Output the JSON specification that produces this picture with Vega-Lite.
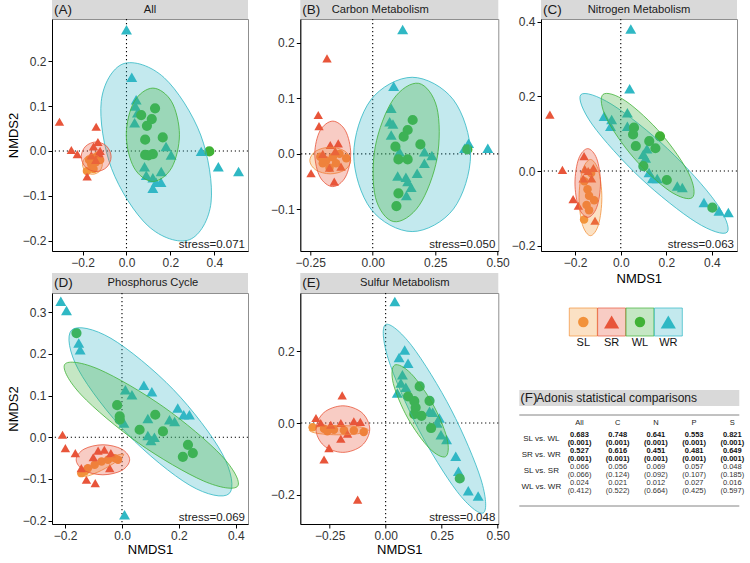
{
"$schema":"https://vega.github.io/schema/vega-lite/v6.json",
"padding":{"left":6,"top":0,"right":5,"bottom":3},
"background":"white",
"config":{"font":"Liberation Sans","view":{"stroke":"#8f8f8f","strokeWidth":1},
"axis":{"grid":false,"domainColor":"#000000","domainWidth":1,"tickColor":"#000000","tickSize":4,"tickWidth":1,"labelColor":"#333333","labelFontSize":12,"labelPadding":2,"labelFlush":false,"labelOverlap":false,"titleFontSize":13,"titleFontWeight":"normal","titleColor":"#000000","titlePadding":2}},
"datasets":{
"pts":[
{"p":"A","g":"SL","x":-0.17,"y":-0.02},{"p":"A","g":"SL","x":-0.16,"y":-0.03},{"p":"A","g":"SL","x":-0.15,"y":-0.04},{"p":"A","g":"SL","x":-0.18,"y":-0.045},{"p":"A","g":"SL","x":-0.14,"y":-0.025},{"p":"A","g":"SL","x":-0.13,"y":-0.01},{"p":"A","g":"SL","x":-0.15,"y":-0.015},{"p":"A","g":"SL","x":-0.12,"y":-0.02},
{"p":"A","g":"SR","x":-0.305,"y":0.065},{"p":"A","g":"SR","x":-0.138,"y":0.054},{"p":"A","g":"SR","x":-0.251,"y":0.002},{"p":"A","g":"SR","x":-0.224,"y":-0.007},{"p":"A","g":"SR","x":-0.179,"y":-0.057},{"p":"A","g":"SR","x":-0.15,"y":0.01},{"p":"A","g":"SR","x":-0.13,"y":0.02},{"p":"A","g":"SR","x":-0.12,"y":0.0},{"p":"A","g":"SR","x":-0.16,"y":-0.01},{"p":"A","g":"SR","x":-0.14,"y":-0.02},{"p":"A","g":"SR","x":-0.125,"y":-0.005},
{"p":"A","g":"WR","x":0.0,"y":0.27},{"p":"A","g":"WR","x":0.024,"y":0.164},{"p":"A","g":"WR","x":0.044,"y":0.114},{"p":"A","g":"WR","x":0.04,"y":0.1},{"p":"A","g":"WR","x":0.05,"y":0.085},{"p":"A","g":"WR","x":0.037,"y":0.063},{"p":"A","g":"WR","x":0.18,"y":0.01},{"p":"A","g":"WR","x":0.203,"y":-0.009},{"p":"A","g":"WR","x":0.082,"y":-0.035},{"p":"A","g":"WR","x":0.09,"y":-0.054},{"p":"A","g":"WR","x":0.158,"y":-0.046},{"p":"A","g":"WR","x":0.12,"y":-0.06},{"p":"A","g":"WR","x":0.135,"y":-0.07},{"p":"A","g":"WR","x":0.12,"y":-0.083},{"p":"A","g":"WR","x":0.157,"y":-0.07},{"p":"A","g":"WR","x":0.34,"y":-0.001},{"p":"A","g":"WR","x":0.418,"y":-0.035},{"p":"A","g":"WR","x":0.51,"y":-0.046},
{"p":"A","g":"WL","x":0.067,"y":0.08},{"p":"A","g":"WL","x":0.13,"y":0.095},{"p":"A","g":"WL","x":0.093,"y":0.056},{"p":"A","g":"WL","x":0.115,"y":0.071},{"p":"A","g":"WL","x":0.085,"y":0.025},{"p":"A","g":"WL","x":0.165,"y":0.03},{"p":"A","g":"WL","x":0.085,"y":-0.009},{"p":"A","g":"WL","x":0.12,"y":-0.007},{"p":"A","g":"WL","x":0.1,"y":-0.01},{"p":"A","g":"WL","x":0.377,"y":-0.001},
{"p":"B","g":"SL","x":-0.21,"y":-0.005},{"p":"B","g":"SL","x":-0.186,"y":-0.012},{"p":"B","g":"SL","x":-0.16,"y":-0.006},{"p":"B","g":"SL","x":-0.133,"y":0.0},{"p":"B","g":"SL","x":-0.173,"y":-0.025},{"p":"B","g":"SL","x":-0.2,"y":-0.017},{"p":"B","g":"SL","x":-0.106,"y":-0.008},{"p":"B","g":"SL","x":-0.147,"y":-0.017},
{"p":"B","g":"SR","x":-0.183,"y":0.172},{"p":"B","g":"SR","x":-0.218,"y":0.07},{"p":"B","g":"SR","x":-0.215,"y":0.05},{"p":"B","g":"SR","x":-0.247,"y":-0.035},{"p":"B","g":"SR","x":-0.154,"y":-0.05},{"p":"B","g":"SR","x":-0.17,"y":0.016},{"p":"B","g":"SR","x":-0.138,"y":0.019},{"p":"B","g":"SR","x":-0.127,"y":-0.023},{"p":"B","g":"SR","x":-0.2,"y":0.0},{"p":"B","g":"SR","x":-0.173,"y":-0.025},{"p":"B","g":"SR","x":-0.15,"y":0.005},
{"p":"B","g":"WR","x":0.12,"y":0.224},{"p":"B","g":"WR","x":0.084,"y":0.122},{"p":"B","g":"WR","x":0.074,"y":0.082},{"p":"B","g":"WR","x":0.068,"y":0.058},{"p":"B","g":"WR","x":0.081,"y":0.054},{"p":"B","g":"WR","x":0.074,"y":0.034},{"p":"B","g":"WR","x":0.107,"y":0.004},{"p":"B","g":"WR","x":0.207,"y":0.004},{"p":"B","g":"WR","x":0.237,"y":-0.003},{"p":"B","g":"WR","x":0.207,"y":-0.017},{"p":"B","g":"WR","x":0.178,"y":-0.035},{"p":"B","g":"WR","x":0.1,"y":-0.04},{"p":"B","g":"WR","x":0.133,"y":-0.042},{"p":"B","g":"WR","x":0.14,"y":-0.05},{"p":"B","g":"WR","x":0.154,"y":-0.06},{"p":"B","g":"WR","x":0.135,"y":-0.075},{"p":"B","g":"WR","x":0.368,"y":0.01},{"p":"B","g":"WR","x":0.384,"y":0.019},{"p":"B","g":"WR","x":0.461,"y":0.01},
{"p":"B","g":"WL","x":0.16,"y":0.061},{"p":"B","g":"WL","x":0.14,"y":0.043},{"p":"B","g":"WL","x":0.124,"y":0.031},{"p":"B","g":"WL","x":0.191,"y":0.017},{"p":"B","g":"WL","x":0.091,"y":0.013},{"p":"B","g":"WL","x":0.103,"y":-0.01},{"p":"B","g":"WL","x":0.14,"y":-0.01},{"p":"B","g":"WL","x":0.103,"y":-0.071},{"p":"B","g":"WL","x":0.095,"y":-0.094},{"p":"B","g":"WL","x":0.379,"y":0.008},
{"p":"C","g":"SL","x":-0.146,"y":-0.049},{"p":"C","g":"SL","x":-0.139,"y":-0.066},{"p":"C","g":"SL","x":-0.117,"y":-0.078},{"p":"C","g":"SL","x":-0.15,"y":-0.091},{"p":"C","g":"SL","x":-0.139,"y":-0.105},{"p":"C","g":"SL","x":-0.161,"y":-0.13},{"p":"C","g":"SL","x":-0.13,"y":-0.005},{"p":"C","g":"SL","x":-0.16,"y":-0.027},
{"p":"C","g":"SR","x":-0.311,"y":0.151},{"p":"C","g":"SR","x":-0.256,"y":0.003},{"p":"C","g":"SR","x":-0.161,"y":0.04},{"p":"C","g":"SR","x":-0.209,"y":-0.075},{"p":"C","g":"SR","x":-0.186,"y":-0.093},{"p":"C","g":"SR","x":-0.113,"y":-0.133},{"p":"C","g":"SR","x":-0.158,"y":0.005},{"p":"C","g":"SR","x":-0.143,"y":0.0},{"p":"C","g":"SR","x":-0.128,"y":-0.02},{"p":"C","g":"SR","x":-0.165,"y":-0.02},{"p":"C","g":"SR","x":-0.12,"y":0.008},
{"p":"C","g":"WR","x":0.044,"y":0.38},{"p":"C","g":"WR","x":0.039,"y":0.22},{"p":"C","g":"WR","x":-0.073,"y":0.147},{"p":"C","g":"WR","x":-0.04,"y":0.138},{"p":"C","g":"WR","x":0.029,"y":0.156},{"p":"C","g":"WR","x":0.029,"y":0.12},{"p":"C","g":"WR","x":-0.045,"y":0.12},{"p":"C","g":"WR","x":0.099,"y":0.045},{"p":"C","g":"WR","x":0.109,"y":0.035},{"p":"C","g":"WR","x":0.124,"y":-0.004},{"p":"C","g":"WR","x":0.139,"y":-0.02},{"p":"C","g":"WR","x":0.248,"y":-0.04},{"p":"C","g":"WR","x":0.27,"y":-0.044},{"p":"C","g":"WR","x":0.365,"y":-0.084},{"p":"C","g":"WR","x":0.431,"y":-0.107},{"p":"C","g":"WR","x":0.472,"y":-0.111},{"p":"C","g":"WR","x":0.115,"y":0.06},{"p":"C","g":"WR","x":0.16,"y":-0.02},
{"p":"C","g":"WL","x":0.058,"y":0.116},{"p":"C","g":"WL","x":0.054,"y":0.098},{"p":"C","g":"WL","x":0.066,"y":0.067},{"p":"C","g":"WL","x":0.125,"y":0.08},{"p":"C","g":"WL","x":0.172,"y":0.093},{"p":"C","g":"WL","x":0.152,"y":0.061},{"p":"C","g":"WL","x":0.099,"y":0.013},{"p":"C","g":"WL","x":0.202,"y":-0.024},{"p":"C","g":"WL","x":0.402,"y":-0.098},
{"p":"D","g":"SL","x":-0.143,"y":-0.086},{"p":"D","g":"SL","x":-0.12,"y":-0.074},{"p":"D","g":"SL","x":-0.096,"y":-0.066},{"p":"D","g":"SL","x":-0.072,"y":-0.058},{"p":"D","g":"SL","x":-0.049,"y":-0.054},{"p":"D","g":"SL","x":-0.026,"y":-0.05},{"p":"D","g":"SL","x":-0.014,"y":-0.054},{"p":"D","g":"SL","x":-0.131,"y":-0.082},
{"p":"D","g":"SR","x":-0.209,"y":0.006},{"p":"D","g":"SR","x":-0.199,"y":-0.026},{"p":"D","g":"SR","x":-0.164,"y":-0.038},{"p":"D","g":"SR","x":-0.143,"y":-0.074},{"p":"D","g":"SR","x":-0.125,"y":-0.102},{"p":"D","g":"SR","x":-0.094,"y":-0.11},{"p":"D","g":"SR","x":-0.043,"y":-0.074},{"p":"D","g":"SR","x":-0.084,"y":-0.032},{"p":"D","g":"SR","x":-0.062,"y":-0.03},{"p":"D","g":"SR","x":-0.039,"y":-0.038},{"p":"D","g":"SR","x":-0.101,"y":-0.048},
{"p":"D","g":"WR","x":-0.215,"y":0.326},{"p":"D","g":"WR","x":-0.195,"y":0.304},{"p":"D","g":"WR","x":-0.152,"y":0.226},{"p":"D","g":"WR","x":-0.147,"y":0.21},{"p":"D","g":"WR","x":0.012,"y":0.114},{"p":"D","g":"WR","x":0.035,"y":0.102},{"p":"D","g":"WR","x":0.077,"y":0.125},{"p":"D","g":"WR","x":0.105,"y":0.109},{"p":"D","g":"WR","x":0.091,"y":0.045},{"p":"D","g":"WR","x":0.007,"y":0.034},{"p":"D","g":"WR","x":0.196,"y":0.07},{"p":"D","g":"WR","x":0.237,"y":0.054},{"p":"D","g":"WR","x":0.217,"y":0.054},{"p":"D","g":"WR","x":0.167,"y":0.042},{"p":"D","g":"WR","x":0.185,"y":0.038},{"p":"D","g":"WR","x":0.091,"y":0.004},{"p":"D","g":"WR","x":0.114,"y":0.0},{"p":"D","g":"WR","x":0.102,"y":-0.008},{"p":"D","g":"WR","x":0.009,"y":-0.186},
{"p":"D","g":"WL","x":-0.16,"y":0.25},{"p":"D","g":"WL","x":-0.017,"y":0.077},{"p":"D","g":"WL","x":-0.008,"y":0.05},{"p":"D","g":"WL","x":-0.008,"y":0.042},{"p":"D","g":"WL","x":0.062,"y":0.018},{"p":"D","g":"WL","x":0.117,"y":0.054},{"p":"D","g":"WL","x":0.144,"y":0.014},{"p":"D","g":"WL","x":0.232,"y":-0.018},{"p":"D","g":"WL","x":0.249,"y":-0.038},{"p":"D","g":"WL","x":0.214,"y":-0.047},
{"p":"E","g":"SL","x":-0.326,"y":-0.012},{"p":"E","g":"SL","x":-0.275,"y":-0.016},{"p":"E","g":"SL","x":-0.231,"y":-0.019},{"p":"E","g":"SL","x":-0.186,"y":-0.02},{"p":"E","g":"SL","x":-0.142,"y":-0.021},{"p":"E","g":"SL","x":-0.098,"y":-0.025},{"p":"E","g":"SL","x":-0.26,"y":-0.023},
{"p":"E","g":"SR","x":-0.194,"y":0.077},{"p":"E","g":"SR","x":-0.311,"y":0.014},{"p":"E","g":"SR","x":-0.253,"y":-0.07},{"p":"E","g":"SR","x":-0.275,"y":-0.102},{"p":"E","g":"SR","x":-0.125,"y":-0.214},{"p":"E","g":"SR","x":-0.29,"y":0.0},{"p":"E","g":"SR","x":-0.245,"y":-0.005},{"p":"E","g":"SR","x":-0.2,"y":0.0},{"p":"E","g":"SR","x":-0.142,"y":0.005},{"p":"E","g":"SR","x":-0.113,"y":0.003},{"p":"E","g":"SR","x":-0.2,"y":-0.044},{"p":"E","g":"SR","x":-0.17,"y":-0.03},
{"p":"E","g":"WR","x":0.041,"y":0.339},{"p":"E","g":"WR","x":0.085,"y":0.204},{"p":"E","g":"WR","x":0.06,"y":0.183},{"p":"E","g":"WR","x":0.1,"y":0.167},{"p":"E","g":"WR","x":0.075,"y":0.135},{"p":"E","g":"WR","x":0.068,"y":0.112},{"p":"E","g":"WR","x":0.052,"y":0.084},{"p":"E","g":"WR","x":0.196,"y":0.033},{"p":"E","g":"WR","x":0.24,"y":0.014},{"p":"E","g":"WR","x":0.247,"y":-0.033},{"p":"E","g":"WR","x":0.272,"y":-0.046},{"p":"E","g":"WR","x":0.313,"y":-0.093},{"p":"E","g":"WR","x":0.325,"y":-0.135},{"p":"E","g":"WR","x":0.369,"y":-0.189},{"p":"E","g":"WR","x":0.413,"y":-0.204},{"p":"E","g":"WR","x":0.09,"y":0.1},{"p":"E","g":"WR","x":0.21,"y":0.03},{"p":"E","g":"WR","x":0.23,"y":0.0},
{"p":"E","g":"WL","x":0.152,"y":0.102},{"p":"E","g":"WL","x":0.1,"y":0.074},{"p":"E","g":"WL","x":0.128,"y":0.061},{"p":"E","g":"WL","x":0.196,"y":0.062},{"p":"E","g":"WL","x":0.134,"y":0.043},{"p":"E","g":"WL","x":0.128,"y":0.025},{"p":"E","g":"WL","x":0.203,"y":-0.014},{"p":"E","g":"WL","x":0.331,"y":-0.155},{"p":"E","g":"WL","x":0.16,"y":0.02}
],
"ell":[
{"p":"A","g":"WR","k":0,"x":0.2858,"y":-0.198},{"p":"A","g":"WR","k":1,"x":0.385,"y":-0.1141},{"p":"A","g":"WR","k":2,"x":0.3377,"y":0.0355},{"p":"A","g":"WR","k":3,"x":0.1717,"y":0.1631},{"p":"A","g":"WR","k":4,"x":-0.0158,"y":0.194},{"p":"A","g":"WR","k":5,"x":-0.115,"y":0.1101},{"p":"A","g":"WR","k":6,"x":-0.0677,"y":-0.0395},{"p":"A","g":"WR","k":7,"x":0.0983,"y":-0.1671},
{"p":"A","g":"WL","k":0,"x":0.241,"y":0.036},{"p":"A","g":"WL","k":1,"x":0.2056,"y":0.1095},{"p":"A","g":"WL","k":2,"x":0.12,"y":0.14},{"p":"A","g":"WL","k":3,"x":0.0344,"y":0.1095},{"p":"A","g":"WL","k":4,"x":-0.001,"y":0.036},{"p":"A","g":"WL","k":5,"x":0.0344,"y":-0.0375},{"p":"A","g":"WL","k":6,"x":0.12,"y":-0.068},{"p":"A","g":"WL","k":7,"x":0.2056,"y":-0.0375},
{"p":"A","g":"SL","k":0,"x":-0.11,"y":-0.03},{"p":"A","g":"SL","k":1,"x":-0.1232,"y":-0.0144},{"p":"A","g":"SL","k":2,"x":-0.155,"y":-0.008},{"p":"A","g":"SL","k":3,"x":-0.1868,"y":-0.0144},{"p":"A","g":"SL","k":4,"x":-0.2,"y":-0.03},{"p":"A","g":"SL","k":5,"x":-0.1868,"y":-0.0456},{"p":"A","g":"SL","k":6,"x":-0.155,"y":-0.052},{"p":"A","g":"SL","k":7,"x":-0.1232,"y":-0.0456},
{"p":"A","g":"SR","k":0,"x":-0.07,"y":-0.013},{"p":"A","g":"SR","k":1,"x":-0.0899,"y":0.0103},{"p":"A","g":"SR","k":2,"x":-0.138,"y":0.02},{"p":"A","g":"SR","k":3,"x":-0.1861,"y":0.0103},{"p":"A","g":"SR","k":4,"x":-0.206,"y":-0.013},{"p":"A","g":"SR","k":5,"x":-0.1861,"y":-0.0363},{"p":"A","g":"SR","k":6,"x":-0.138,"y":-0.046},{"p":"A","g":"SR","k":7,"x":-0.0899,"y":-0.0363},
{"p":"B","g":"WR","k":0,"x":0.392,"y":-0.001},{"p":"B","g":"WR","k":1,"x":0.3235,"y":0.0973},{"p":"B","g":"WR","k":2,"x":0.158,"y":0.138},{"p":"B","g":"WR","k":3,"x":-0.0075,"y":0.0973},{"p":"B","g":"WR","k":4,"x":-0.076,"y":-0.001},{"p":"B","g":"WR","k":5,"x":-0.0075,"y":-0.0993},{"p":"B","g":"WR","k":6,"x":0.158,"y":-0.14},{"p":"B","g":"WR","k":7,"x":0.3235,"y":-0.0993},
{"p":"B","g":"WL","k":0,"x":0.1839,"y":0.1271},{"p":"B","g":"WL","k":1,"x":0.257,"y":0.0835},{"p":"B","g":"WL","k":2,"x":0.258,"y":-0.0075},{"p":"B","g":"WL","k":3,"x":0.1864,"y":-0.0927},{"p":"B","g":"WL","k":4,"x":0.0841,"y":-0.1221},{"p":"B","g":"WL","k":5,"x":0.011,"y":-0.0785},{"p":"B","g":"WL","k":6,"x":0.01,"y":0.0125},{"p":"B","g":"WL","k":7,"x":0.0816,"y":0.0977},
{"p":"B","g":"SL","k":0,"x":-0.088,"y":-0.012},{"p":"B","g":"SL","k":1,"x":-0.112,"y":0.005},{"p":"B","g":"SL","k":2,"x":-0.17,"y":0.012},{"p":"B","g":"SL","k":3,"x":-0.228,"y":0.005},{"p":"B","g":"SL","k":4,"x":-0.252,"y":-0.012},{"p":"B","g":"SL","k":5,"x":-0.228,"y":-0.029},{"p":"B","g":"SL","k":6,"x":-0.17,"y":-0.036},{"p":"B","g":"SL","k":7,"x":-0.112,"y":-0.029},
{"p":"B","g":"SR","k":0,"x":-0.088,"y":0.0},{"p":"B","g":"SR","k":1,"x":-0.1091,"y":0.0417},{"p":"B","g":"SR","k":2,"x":-0.16,"y":0.059},{"p":"B","g":"SR","k":3,"x":-0.2109,"y":0.0417},{"p":"B","g":"SR","k":4,"x":-0.232,"y":0.0},{"p":"B","g":"SR","k":5,"x":-0.2109,"y":-0.0417},{"p":"B","g":"SR","k":6,"x":-0.16,"y":-0.059},{"p":"B","g":"SR","k":7,"x":-0.1091,"y":-0.0417},
{"p":"C","g":"WR","k":0,"x":0.467,"y":-0.1635},{"p":"C","g":"WR","k":1,"x":0.4155,"y":-0.0822},{"p":"C","g":"WR","k":2,"x":0.2062,"y":0.0593},{"p":"C","g":"WR","k":3,"x":-0.0384,"y":0.178},{"p":"C","g":"WR","k":4,"x":-0.175,"y":0.2045},{"p":"C","g":"WR","k":5,"x":-0.1235,"y":0.1232},{"p":"C","g":"WR","k":6,"x":0.0858,"y":-0.0183},{"p":"C","g":"WR","k":7,"x":0.3304,"y":-0.137},
{"p":"C","g":"WL","k":0,"x":0.314,"y":-0.071},{"p":"C","g":"WL","k":1,"x":0.2996,"y":-0.008},{"p":"C","g":"WL","k":2,"x":0.1788,"y":0.0989},{"p":"C","g":"WL","k":3,"x":0.0224,"y":0.1871},{"p":"C","g":"WL","k":4,"x":-0.078,"y":0.205},{"p":"C","g":"WL","k":5,"x":-0.0636,"y":0.142},{"p":"C","g":"WL","k":6,"x":0.0572,"y":0.0351},{"p":"C","g":"WL","k":7,"x":0.2136,"y":-0.0531},
{"p":"C","g":"SL","k":0,"x":-0.083,"y":-0.071},{"p":"C","g":"SL","k":1,"x":-0.0976,"y":0.0011},{"p":"C","g":"SL","k":2,"x":-0.133,"y":0.031},{"p":"C","g":"SL","k":3,"x":-0.1684,"y":0.0011},{"p":"C","g":"SL","k":4,"x":-0.183,"y":-0.071},{"p":"C","g":"SL","k":5,"x":-0.1684,"y":-0.1431},{"p":"C","g":"SL","k":6,"x":-0.133,"y":-0.173},{"p":"C","g":"SL","k":7,"x":-0.0976,"y":-0.1431},
{"p":"C","g":"SR","k":0,"x":-0.089,"y":-0.032},{"p":"C","g":"SR","k":1,"x":-0.1054,"y":0.0331},{"p":"C","g":"SR","k":2,"x":-0.145,"y":0.06},{"p":"C","g":"SR","k":3,"x":-0.1846,"y":0.0331},{"p":"C","g":"SR","k":4,"x":-0.201,"y":-0.032},{"p":"C","g":"SR","k":5,"x":-0.1846,"y":-0.0971},{"p":"C","g":"SR","k":6,"x":-0.145,"y":-0.124},{"p":"C","g":"SR","k":7,"x":-0.1054,"y":-0.0971},
{"p":"D","g":"WR","k":0,"x":0.377,"y":-0.135},{"p":"D","g":"WR","k":1,"x":0.3529,"y":-0.0399},{"p":"D","g":"WR","k":2,"x":0.1807,"y":0.1143},{"p":"D","g":"WR","k":3,"x":-0.0388,"y":0.2373},{"p":"D","g":"WR","k":4,"x":-0.177,"y":0.257},{"p":"D","g":"WR","k":5,"x":-0.1529,"y":0.1619},{"p":"D","g":"WR","k":6,"x":0.0193,"y":0.0077},{"p":"D","g":"WR","k":7,"x":0.2388,"y":-0.1153},
{"p":"D","g":"WL","k":0,"x":0.407,"y":-0.117},{"p":"D","g":"WL","k":1,"x":0.3493,"y":-0.0437},{"p":"D","g":"WL","k":2,"x":0.1473,"y":0.0722},{"p":"D","g":"WL","k":3,"x":-0.0806,"y":0.1628},{"p":"D","g":"WL","k":4,"x":-0.201,"y":0.175},{"p":"D","g":"WL","k":5,"x":-0.1433,"y":0.1017},{"p":"D","g":"WL","k":6,"x":0.0587,"y":-0.0142},{"p":"D","g":"WL","k":7,"x":0.2866,"y":-0.1048},
{"p":"D","g":"SL","k":0,"x":0.006,"y":-0.041},{"p":"D","g":"SL","k":1,"x":-0.0104,"y":-0.0538},{"p":"D","g":"SL","k":2,"x":-0.0582,"y":-0.0744},{"p":"D","g":"SL","k":3,"x":-0.1094,"y":-0.0906},{"p":"D","g":"SL","k":4,"x":-0.134,"y":-0.093},{"p":"D","g":"SL","k":5,"x":-0.1176,"y":-0.0802},{"p":"D","g":"SL","k":6,"x":-0.0698,"y":-0.0596},{"p":"D","g":"SL","k":7,"x":-0.0186,"y":-0.0434},
{"p":"D","g":"SR","k":0,"x":0.027,"y":-0.054},{"p":"D","g":"SR","k":1,"x":-0.0005,"y":-0.0285},{"p":"D","g":"SR","k":2,"x":-0.067,"y":-0.018},{"p":"D","g":"SR","k":3,"x":-0.1335,"y":-0.0285},{"p":"D","g":"SR","k":4,"x":-0.161,"y":-0.054},{"p":"D","g":"SR","k":5,"x":-0.1335,"y":-0.0795},{"p":"D","g":"SR","k":6,"x":-0.067,"y":-0.09},{"p":"D","g":"SR","k":7,"x":-0.0005,"y":-0.0795},
{"p":"E","g":"WR","k":0,"x":0.436,"y":-0.251},{"p":"E","g":"WR","k":1,"x":0.4251,"y":-0.1564},{"p":"E","g":"WR","k":2,"x":0.2929,"y":0.0369},{"p":"E","g":"WR","k":3,"x":0.1168,"y":0.2156},{"p":"E","g":"WR","k":4,"x":0.0,"y":0.275},{"p":"E","g":"WR","k":5,"x":0.0109,"y":0.1804},{"p":"E","g":"WR","k":6,"x":0.1431,"y":-0.0129},{"p":"E","g":"WR","k":7,"x":0.3192,"y":-0.1916},
{"p":"E","g":"WL","k":0,"x":0.2678,"y":-0.0938},{"p":"E","g":"WL","k":1,"x":0.2739,"y":-0.0424},{"p":"E","g":"WL","k":2,"x":0.2097,"y":0.0538},{"p":"E","g":"WL","k":3,"x":0.1129,"y":0.1384},{"p":"E","g":"WL","k":4,"x":0.0402,"y":0.1618},{"p":"E","g":"WL","k":5,"x":0.0341,"y":0.1104},{"p":"E","g":"WL","k":6,"x":0.0983,"y":0.0142},{"p":"E","g":"WL","k":7,"x":0.1951,"y":-0.0704},
{"p":"E","g":"SL","k":0,"x":-0.077,"y":-0.02},{"p":"E","g":"SL","k":1,"x":-0.1157,"y":-0.0108},{"p":"E","g":"SL","k":2,"x":-0.209,"y":-0.007},{"p":"E","g":"SL","k":3,"x":-0.3023,"y":-0.0108},{"p":"E","g":"SL","k":4,"x":-0.341,"y":-0.02},{"p":"E","g":"SL","k":5,"x":-0.3023,"y":-0.0292},{"p":"E","g":"SL","k":6,"x":-0.209,"y":-0.033},{"p":"E","g":"SL","k":7,"x":-0.1157,"y":-0.0292},
{"p":"E","g":"SR","k":0,"x":-0.071,"y":-0.017},{"p":"E","g":"SR","k":1,"x":-0.1061,"y":0.029},{"p":"E","g":"SR","k":2,"x":-0.191,"y":0.048},{"p":"E","g":"SR","k":3,"x":-0.2759,"y":0.029},{"p":"E","g":"SR","k":4,"x":-0.311,"y":-0.017},{"p":"E","g":"SR","k":5,"x":-0.2759,"y":-0.063},{"p":"E","g":"SR","k":6,"x":-0.191,"y":-0.082},{"p":"E","g":"SR","k":7,"x":-0.1061,"y":-0.063}
],
"tbl":[
{"r":"SL vs. WL","c":"All","v":"0.683","pv":"(0.001)","s":1},{"r":"SL vs. WL","c":"C","v":"0.748","pv":"(0.001)","s":1},{"r":"SL vs. WL","c":"N","v":"0.641","pv":"(0.001)","s":1},{"r":"SL vs. WL","c":"P","v":"0.553","pv":"(0.001)","s":1},{"r":"SL vs. WL","c":"S","v":"0.821","pv":"(0.001)","s":1},
{"r":"SR vs. WR","c":"All","v":"0.527","pv":"(0.001)","s":1},{"r":"SR vs. WR","c":"C","v":"0.616","pv":"(0.001)","s":1},{"r":"SR vs. WR","c":"N","v":"0.451","pv":"(0.001)","s":1},{"r":"SR vs. WR","c":"P","v":"0.481","pv":"(0.001)","s":1},{"r":"SR vs. WR","c":"S","v":"0.649","pv":"(0.001)","s":1},
{"r":"SL vs. SR","c":"All","v":"0.066","pv":"(0.066)","s":0},{"r":"SL vs. SR","c":"C","v":"0.056","pv":"(0.124)","s":0},{"r":"SL vs. SR","c":"N","v":"0.069","pv":"(0.092)","s":0},{"r":"SL vs. SR","c":"P","v":"0.057","pv":"(0.107)","s":0},{"r":"SL vs. SR","c":"S","v":"0.048","pv":"(0.185)","s":0},
{"r":"WL vs. WR","c":"All","v":"0.024","pv":"(0.412)","s":0},{"r":"WL vs. WR","c":"C","v":"0.021","pv":"(0.522)","s":0},{"r":"WL vs. WR","c":"N","v":"0.012","pv":"(0.664)","s":0},{"r":"WL vs. WR","c":"P","v":"0.027","pv":"(0.425)","s":0},{"r":"WL vs. WR","c":"S","v":"0.016","pv":"(0.597)","s":0}
]
},
"spacing":4,
"vconcat":[
{"spacing":0,"hconcat":[
 {"spacing":19.3,"hconcat":[
 {"bounds":"flush","spacing":0,"vconcat":[
  {"width":196,"height":19,"view":{"fill":"#D9D9D9","stroke":null},"data":{"values":[{}]},"layer":[
   {"mark":{"type":"text","text":"(A)","align":"left","baseline":"middle","fontSize":13.5,"dx":2,"color":"#1a1a1a"},"encoding":{"x":{"datum":0,"type":"quantitative","scale":{"domain":[0,1]},"axis":null}}},
   {"mark":{"type":"text","text":"All","align":"center","baseline":"middle","fontSize":11.2,"color":"#1a1a1a"},"encoding":{"x":{"datum":0.5,"type":"quantitative","axis":null}}}]},
  {"width":196,"height":232,"layer":[
   {"data":{"values":[{}]},"mark":{"type":"rule","strokeDash":[1.2,2.8],"strokeWidth":1.1,"color":"#000"},"encoding":{"x":{"datum":0,"type":"quantitative"}}},
   {"data":{"values":[{}]},"mark":{"type":"rule","strokeDash":[1.2,2.8],"strokeWidth":1.1,"color":"#000"},"encoding":{"y":{"datum":0,"type":"quantitative"}}},
   {"data":{"name":"pts"},"transform":[{"filter":"datum.p == 'A'"}],"mark":{"type":"point","filled":true,"opacity":1,"strokeWidth":0},"encoding":{
     "x":{"field":"x","type":"quantitative","scale":{"domain":[-0.339,0.553],"nice":false,"zero":false},"axis":{"values":[-0.2,0,0.2,0.4],"format":".1f","title":null}},
     "y":{"field":"y","type":"quantitative","scale":{"domain":[-0.223,0.294],"nice":false,"zero":false},"axis":{"values":[-0.2,-0.1,0,0.1,0.2],"format":".1f","title":"NMDS2"}},
     "color":{"field":"g","type":"nominal","scale":{"domain":["SL","SR","WL","WR"],"range":["#F2923B","#E8553A","#40B236","#2FB8C4"]},"legend":null},
     "shape":{"field":"g","type":"nominal","scale":{"domain":["SL","SR","WL","WR"],"range":["circle","triangle-up","circle","triangle-up"]},"legend":null},
     "size":{"field":"g","type":"nominal","scale":{"domain":["SL","SR","WL","WR"],"range":[72,120,72,120]},"legend":null}}},
   {"data":{"name":"ell"},"transform":[{"filter":"datum.p == 'A'"}],"mark":{"type":"line","interpolate":"cardinal-closed","strokeWidth":0.8,"fillOpacity":0.3},"encoding":{
     "x":{"field":"x","type":"quantitative"},"y":{"field":"y","type":"quantitative"},"order":{"field":"k","type":"quantitative"},
     "stroke":{"field":"g","type":"nominal","scale":{"domain":["SL","SR","WL","WR"],"range":["#F2923B","#E8553A","#40B236","#2FB8C4"]},"legend":null},
     "fill":{"field":"g","type":"nominal","scale":{"domain":["SL","SR","WL","WR"],"range":["#F39B3A","#E9553A","#3FAF3A","#37B6C6"]},"legend":null}}},
   {"data":{"values":[{}]},"mark":{"type":"text","text":"stress=0.071","align":"right","baseline":"bottom","dx":-3,"dy":-1,"fontSize":11.5,"color":"#222"},"encoding":{"x":{"datum":0.553,"type":"quantitative"},"y":{"datum":-0.223,"type":"quantitative"}}}
  ]}
 ]},
 {"bounds":"flush","spacing":0,"vconcat":[
  {"width":198,"height":19,"view":{"fill":"#D9D9D9","stroke":null},"data":{"values":[{}]},"layer":[
   {"mark":{"type":"text","text":"(B)","align":"left","baseline":"middle","fontSize":13.5,"dx":2,"color":"#1a1a1a"},"encoding":{"x":{"datum":0,"type":"quantitative","scale":{"domain":[0,1]},"axis":null}}},
   {"mark":{"type":"text","text":"Carbon Metabolism","align":"center","baseline":"middle","fontSize":11.2,"color":"#1a1a1a"},"encoding":{"x":{"datum":0.404,"type":"quantitative","axis":null}}}]},
  {"width":198,"height":232,"layer":[
   {"data":{"values":[{}]},"mark":{"type":"rule","strokeDash":[1.2,2.8],"strokeWidth":1.1,"color":"#000"},"encoding":{"x":{"datum":0,"type":"quantitative"}}},
   {"data":{"values":[{}]},"mark":{"type":"rule","strokeDash":[1.2,2.8],"strokeWidth":1.1,"color":"#000"},"encoding":{"y":{"datum":0,"type":"quantitative"}}},
   {"data":{"name":"pts"},"transform":[{"filter":"datum.p == 'B'"}],"mark":{"type":"point","filled":true,"opacity":1,"strokeWidth":0},"encoding":{
     "x":{"field":"x","type":"quantitative","scale":{"domain":[-0.29,0.503],"nice":false,"zero":false},"axis":{"values":[-0.25,0,0.25,0.5],"format":".2f","title":null}},
     "y":{"field":"y","type":"quantitative","scale":{"domain":[-0.175,0.243],"nice":false,"zero":false},"axis":{"values":[-0.1,0,0.1,0.2],"format":".1f","title":null}},
     "color":{"field":"g","type":"nominal","scale":{"domain":["SL","SR","WL","WR"],"range":["#F2923B","#E8553A","#40B236","#2FB8C4"]},"legend":null},
     "shape":{"field":"g","type":"nominal","scale":{"domain":["SL","SR","WL","WR"],"range":["circle","triangle-up","circle","triangle-up"]},"legend":null},
     "size":{"field":"g","type":"nominal","scale":{"domain":["SL","SR","WL","WR"],"range":[72,120,72,120]},"legend":null}}},
   {"data":{"name":"ell"},"transform":[{"filter":"datum.p == 'B'"}],"mark":{"type":"line","interpolate":"cardinal-closed","strokeWidth":0.8,"fillOpacity":0.3},"encoding":{
     "x":{"field":"x","type":"quantitative"},"y":{"field":"y","type":"quantitative"},"order":{"field":"k","type":"quantitative"},
     "stroke":{"field":"g","type":"nominal","scale":{"domain":["SL","SR","WL","WR"],"range":["#F2923B","#E8553A","#40B236","#2FB8C4"]},"legend":null},
     "fill":{"field":"g","type":"nominal","scale":{"domain":["SL","SR","WL","WR"],"range":["#F39B3A","#E9553A","#3FAF3A","#37B6C6"]},"legend":null}}},
   {"data":{"values":[{}]},"mark":{"type":"text","text":"stress=0.050","align":"right","baseline":"bottom","dx":-3,"dy":-1,"fontSize":11.5,"color":"#222"},"encoding":{"x":{"datum":0.503,"type":"quantitative"},"y":{"datum":-0.175,"type":"quantitative"}}}
  ]}
 ]}
 ]},
 {"bounds":"flush","spacing":0,"vconcat":[
  {"width":196,"height":19,"view":{"fill":"#D9D9D9","stroke":null},"data":{"values":[{}]},"layer":[
   {"mark":{"type":"text","text":"(C)","align":"left","baseline":"middle","fontSize":13.5,"dx":2,"color":"#1a1a1a"},"encoding":{"x":{"datum":0,"type":"quantitative","scale":{"domain":[0,1]},"axis":null}}},
   {"mark":{"type":"text","text":"Nitrogen Metabolism","align":"center","baseline":"middle","fontSize":11.2,"color":"#1a1a1a"},"encoding":{"x":{"datum":0.5,"type":"quantitative","axis":null}}}]},
  {"width":196,"height":232,"layer":[
   {"data":{"values":[{}]},"mark":{"type":"rule","strokeDash":[1.2,2.8],"strokeWidth":1.1,"color":"#000"},"encoding":{"x":{"datum":0,"type":"quantitative"}}},
   {"data":{"values":[{}]},"mark":{"type":"rule","strokeDash":[1.2,2.8],"strokeWidth":1.1,"color":"#000"},"encoding":{"y":{"datum":0,"type":"quantitative"}}},
   {"data":{"name":"pts"},"transform":[{"filter":"datum.p == 'C'"}],"mark":{"type":"point","filled":true,"opacity":1,"strokeWidth":0},"encoding":{
     "x":{"field":"x","type":"quantitative","scale":{"domain":[-0.35,0.51],"nice":false,"zero":false},"axis":{"values":[-0.2,0,0.2,0.4],"format":".1f","title":null}},
     "y":{"field":"y","type":"quantitative","scale":{"domain":[-0.214,0.407],"nice":false,"zero":false},"axis":{"values":[-0.2,0,0.2,0.4],"format":".1f","title":null}},
     "color":{"field":"g","type":"nominal","scale":{"domain":["SL","SR","WL","WR"],"range":["#F2923B","#E8553A","#40B236","#2FB8C4"]},"legend":null},
     "shape":{"field":"g","type":"nominal","scale":{"domain":["SL","SR","WL","WR"],"range":["circle","triangle-up","circle","triangle-up"]},"legend":null},
     "size":{"field":"g","type":"nominal","scale":{"domain":["SL","SR","WL","WR"],"range":[72,120,72,120]},"legend":null}}},
   {"data":{"name":"ell"},"transform":[{"filter":"datum.p == 'C'"}],"mark":{"type":"line","interpolate":"cardinal-closed","strokeWidth":0.8,"fillOpacity":0.3},"encoding":{
     "x":{"field":"x","type":"quantitative"},"y":{"field":"y","type":"quantitative"},"order":{"field":"k","type":"quantitative"},
     "stroke":{"field":"g","type":"nominal","scale":{"domain":["SL","SR","WL","WR"],"range":["#F2923B","#E8553A","#40B236","#2FB8C4"]},"legend":null},
     "fill":{"field":"g","type":"nominal","scale":{"domain":["SL","SR","WL","WR"],"range":["#F39B3A","#E9553A","#3FAF3A","#37B6C6"]},"legend":null}}},
   {"data":{"values":[{}]},"mark":{"type":"text","text":"stress=0.063","align":"right","baseline":"bottom","dx":-3,"dy":-1,"fontSize":11.5,"color":"#222"},"encoding":{"x":{"datum":0.51,"type":"quantitative"},"y":{"datum":-0.214,"type":"quantitative"}}}
  ]}
 ]}
]},
{"spacing":8.3,"hconcat":[
 {"spacing":19.3,"hconcat":[
  {"bounds":"flush","spacing":0,"vconcat":[
   {"width":196,"height":20,"view":{"fill":"#D9D9D9","stroke":null},"data":{"values":[{}]},"layer":[
    {"mark":{"type":"text","text":"(D)","align":"left","baseline":"middle","fontSize":13.5,"dx":2,"color":"#1a1a1a"},"encoding":{"x":{"datum":0,"type":"quantitative","scale":{"domain":[0,1]},"axis":null}}},
    {"mark":{"type":"text","text":"Phosphorus Cycle","align":"center","baseline":"middle","fontSize":11.2,"color":"#1a1a1a"},"encoding":{"x":{"datum":0.515,"type":"quantitative","axis":null}}}]},
   {"width":196,"height":231,"layer":[
    {"data":{"values":[{}]},"mark":{"type":"rule","strokeDash":[1.2,2.8],"strokeWidth":1.1,"color":"#000"},"encoding":{"x":{"datum":0,"type":"quantitative"}}},
    {"data":{"values":[{}]},"mark":{"type":"rule","strokeDash":[1.2,2.8],"strokeWidth":1.1,"color":"#000"},"encoding":{"y":{"datum":0,"type":"quantitative"}}},
    {"data":{"name":"pts"},"transform":[{"filter":"datum.p == 'D'"}],"mark":{"type":"point","filled":true,"opacity":1,"strokeWidth":0},"encoding":{
      "x":{"field":"x","type":"quantitative","scale":{"domain":[-0.246,0.443],"nice":false,"zero":false},"axis":{"values":[-0.2,0,0.2,0.4],"format":".1f","title":"NMDS1"}},
      "y":{"field":"y","type":"quantitative","scale":{"domain":[-0.208,0.346],"nice":false,"zero":false},"axis":{"values":[-0.2,-0.1,0,0.1,0.2,0.3],"format":".1f","title":"NMDS2"}},
      "color":{"field":"g","type":"nominal","scale":{"domain":["SL","SR","WL","WR"],"range":["#F2923B","#E8553A","#40B236","#2FB8C4"]},"legend":null},
      "shape":{"field":"g","type":"nominal","scale":{"domain":["SL","SR","WL","WR"],"range":["circle","triangle-up","circle","triangle-up"]},"legend":null},
      "size":{"field":"g","type":"nominal","scale":{"domain":["SL","SR","WL","WR"],"range":[72,120,72,120]},"legend":null}}},
    {"data":{"name":"ell"},"transform":[{"filter":"datum.p == 'D'"}],"mark":{"type":"line","interpolate":"cardinal-closed","strokeWidth":0.8,"fillOpacity":0.3},"encoding":{
      "x":{"field":"x","type":"quantitative"},"y":{"field":"y","type":"quantitative"},"order":{"field":"k","type":"quantitative"},
      "stroke":{"field":"g","type":"nominal","scale":{"domain":["SL","SR","WL","WR"],"range":["#F2923B","#E8553A","#40B236","#2FB8C4"]},"legend":null},
      "fill":{"field":"g","type":"nominal","scale":{"domain":["SL","SR","WL","WR"],"range":["#F39B3A","#E9553A","#3FAF3A","#37B6C6"]},"legend":null}}},
    {"data":{"values":[{}]},"mark":{"type":"text","text":"stress=0.069","align":"right","baseline":"bottom","dx":-3,"dy":-1,"fontSize":11.5,"color":"#222"},"encoding":{"x":{"datum":0.443,"type":"quantitative"},"y":{"datum":-0.208,"type":"quantitative"}}}
   ]}
  ]},
  {"bounds":"flush","spacing":0,"vconcat":[
   {"width":198,"height":20,"view":{"fill":"#D9D9D9","stroke":null},"data":{"values":[{}]},"layer":[
    {"mark":{"type":"text","text":"(E)","align":"left","baseline":"middle","fontSize":13.5,"dx":2,"color":"#1a1a1a"},"encoding":{"x":{"datum":0,"type":"quantitative","scale":{"domain":[0,1]},"axis":null}}},
    {"mark":{"type":"text","text":"Sulfur Metabolism","align":"center","baseline":"middle","fontSize":11.2,"color":"#1a1a1a"},"encoding":{"x":{"datum":0.528,"type":"quantitative","axis":null}}}]},
   {"width":198,"height":231,"layer":[
    {"data":{"values":[{}]},"mark":{"type":"rule","strokeDash":[1.2,2.8],"strokeWidth":1.1,"color":"#000"},"encoding":{"x":{"datum":0,"type":"quantitative"}}},
    {"data":{"values":[{}]},"mark":{"type":"rule","strokeDash":[1.2,2.8],"strokeWidth":1.1,"color":"#000"},"encoding":{"y":{"datum":0,"type":"quantitative"}}},
    {"data":{"name":"pts"},"transform":[{"filter":"datum.p == 'E'"}],"mark":{"type":"point","filled":true,"opacity":1,"strokeWidth":0},"encoding":{
      "x":{"field":"x","type":"quantitative","scale":{"domain":[-0.381,0.503],"nice":false,"zero":false},"axis":{"values":[-0.25,0,0.25,0.5],"format":".2f","title":"NMDS1"}},
      "y":{"field":"y","type":"quantitative","scale":{"domain":[-0.282,0.363],"nice":false,"zero":false},"axis":{"values":[-0.2,0,0.2],"format":".1f","title":null}},
      "color":{"field":"g","type":"nominal","scale":{"domain":["SL","SR","WL","WR"],"range":["#F2923B","#E8553A","#40B236","#2FB8C4"]},"legend":null},
      "shape":{"field":"g","type":"nominal","scale":{"domain":["SL","SR","WL","WR"],"range":["circle","triangle-up","circle","triangle-up"]},"legend":null},
      "size":{"field":"g","type":"nominal","scale":{"domain":["SL","SR","WL","WR"],"range":[72,120,72,120]},"legend":null}}},
    {"data":{"name":"ell"},"transform":[{"filter":"datum.p == 'E'"}],"mark":{"type":"line","interpolate":"cardinal-closed","strokeWidth":0.8,"fillOpacity":0.3},"encoding":{
      "x":{"field":"x","type":"quantitative"},"y":{"field":"y","type":"quantitative"},"order":{"field":"k","type":"quantitative"},
      "stroke":{"field":"g","type":"nominal","scale":{"domain":["SL","SR","WL","WR"],"range":["#F2923B","#E8553A","#40B236","#2FB8C4"]},"legend":null},
      "fill":{"field":"g","type":"nominal","scale":{"domain":["SL","SR","WL","WR"],"range":["#F39B3A","#E9553A","#3FAF3A","#37B6C6"]},"legend":null}}},
    {"data":{"values":[{}]},"mark":{"type":"text","text":"stress=0.048","align":"right","baseline":"bottom","dx":-3,"dy":-1,"fontSize":11.5,"color":"#222"},"encoding":{"x":{"datum":0.503,"type":"quantitative"},"y":{"datum":-0.282,"type":"quantitative"}}}
   ]}
  ]}
 ]},
 {"spacing":19,"vconcat":[
  {"width":220,"height":98,"view":{"stroke":null},"data":{"values":[{"g":"SL"},{"g":"SR"},{"g":"WL"},{"g":"WR"}]},
   "layer":[
    {"data":{"values":[{}]},"mark":{"type":"text","text":"NMDS1","fontSize":13,"color":"#000","baseline":"middle","align":"center","dy":-43},"encoding":{"x":{"value":120}}},
    {"mark":{"type":"point","shape":"square","size":784,"filled":true,"strokeWidth":1,"opacity":1,"fillOpacity":0.3,"strokeOpacity":0.7},"encoding":{
      "x":{"field":"g","type":"nominal","scale":{"type":"point","domain":["SL","SR","WL","WR"],"range":[64,149],"padding":0},"axis":null},
      "fill":{"field":"g","type":"nominal","scale":{"domain":["SL","SR","WL","WR"],"range":["#F39B3A","#E9553A","#3FAF3A","#37B6C6"]},"legend":null},
      "stroke":{"field":"g","type":"nominal","scale":{"domain":["SL","SR","WL","WR"],"range":["#F2923B","#E8553A","#40B236","#2FB8C4"]},"legend":null}}},
    {"transform":[{"filter":"datum.g == 'SL' || datum.g == 'WL'"}],"mark":{"type":"point","shape":"circle","size":110,"filled":true,"opacity":1,"strokeWidth":0},"encoding":{
      "x":{"field":"g","type":"nominal","axis":null},
      "color":{"field":"g","type":"nominal","scale":{"domain":["SL","SR","WL","WR"],"range":["#F2923B","#E8553A","#40B236","#2FB8C4"]},"legend":null}}},
    {"transform":[{"filter":"datum.g == 'SR' || datum.g == 'WR'"}],"mark":{"type":"point","shape":"triangle-up","size":230,"filled":true,"opacity":1,"strokeWidth":0},"encoding":{
      "x":{"field":"g","type":"nominal","axis":null},
      "color":{"field":"g","type":"nominal","scale":{"domain":["SL","SR","WL","WR"],"range":["#F2923B","#E8553A","#40B236","#2FB8C4"]},"legend":null}}},
    {"mark":{"type":"text","dy":21,"fontSize":11,"color":"#111"},"encoding":{"x":{"field":"g","type":"nominal","axis":null},"text":{"field":"g"}}}
   ]},
  {"bounds":"flush","spacing":0,"vconcat":[
   {"width":220,"height":16,"view":{"fill":"#D9D9D9","stroke":null},"data":{"values":[{}]},"layer":[
    {"mark":{"type":"text","text":"(F)","align":"left","baseline":"middle","fontSize":13.5,"dx":1,"color":"#1a1a1a"},"encoding":{"x":{"datum":0,"type":"quantitative","scale":{"domain":[0,1]},"axis":null}}},
    {"mark":{"type":"text","text":"Adonis statistical comparisons","align":"left","baseline":"middle","fontSize":12,"dx":17,"color":"#1a1a1a"},"encoding":{"x":{"datum":0,"type":"quantitative","axis":null}}}]},
   {"width":220,"height":100,"view":{"stroke":null},"layer":[
    {"data":{"values":[{}]},"mark":{"type":"rule","color":"#666","strokeWidth":0.8,"yOffset":-8},"encoding":{"y":{"datum":"hdr","type":"nominal","scale":{"type":"point","domain":["hdr","SL vs. WL","SR vs. WR","SL vs. SR","WL vs. WR"],"range":[17,81],"padding":0},"axis":null}}},
    {"data":{"values":[{}]},"mark":{"type":"rule","color":"#666","strokeWidth":0.8,"yOffset":19},"encoding":{"y":{"datum":"WL vs. WR","type":"nominal","axis":null}}},
    {"data":{"values":[{"c":"All"},{"c":"C"},{"c":"N"},{"c":"P"},{"c":"S"}]},"mark":{"type":"text","fontSize":7.5,"color":"#222"},"encoding":{"x":{"field":"c","type":"nominal","scale":{"type":"point","domain":["lab","All","C","N","P","S"],"range":[22,213],"padding":0},"axis":null},"y":{"datum":"hdr","type":"nominal","axis":null},"text":{"field":"c"}}},
    {"data":{"values":[{"r":"SL vs. WL"},{"r":"SR vs. WR"},{"r":"SL vs. SR"},{"r":"WL vs. WR"}]},"mark":{"type":"text","fontSize":8,"color":"#222"},"encoding":{"x":{"datum":"lab","type":"nominal","axis":null},"y":{"field":"r","type":"nominal","axis":null},"text":{"field":"r"}}},
    {"data":{"name":"tbl"},"transform":[{"filter":"datum.s == 1"}],"mark":{"type":"text","fontSize":7.5,"fontWeight":"bold","dy":-4,"color":"#111"},"encoding":{"x":{"field":"c","type":"nominal","axis":null},"y":{"field":"r","type":"nominal","axis":null},"text":{"field":"v"}}},
    {"data":{"name":"tbl"},"transform":[{"filter":"datum.s == 1"}],"mark":{"type":"text","fontSize":7.5,"fontWeight":"bold","dy":4,"color":"#111"},"encoding":{"x":{"field":"c","type":"nominal","axis":null},"y":{"field":"r","type":"nominal","axis":null},"text":{"field":"pv"}}},
    {"data":{"name":"tbl"},"transform":[{"filter":"datum.s == 0"}],"mark":{"type":"text","fontSize":7.5,"dy":-4,"color":"#333"},"encoding":{"x":{"field":"c","type":"nominal","axis":null},"y":{"field":"r","type":"nominal","axis":null},"text":{"field":"v"}}},
    {"data":{"name":"tbl"},"transform":[{"filter":"datum.s == 0"}],"mark":{"type":"text","fontSize":7.5,"dy":4,"color":"#333"},"encoding":{"x":{"field":"c","type":"nominal","axis":null},"y":{"field":"r","type":"nominal","axis":null},"text":{"field":"pv"}}}
   ]}
  ]}
 ]}
]}
]
}
